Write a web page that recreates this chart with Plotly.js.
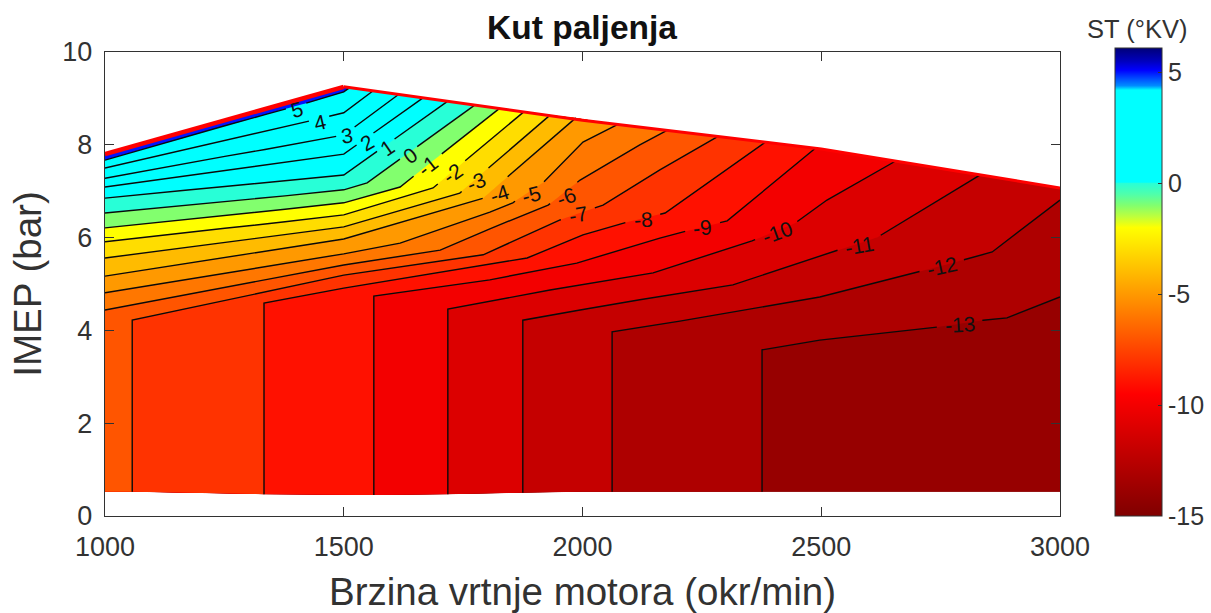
<!DOCTYPE html>
<html><head><meta charset="utf-8">
<script src="https://cdn.plot.ly/plotly-3.0.1.min.js"></script>
<style>html,body{margin:0;padding:0;background:#fff}</style></head>
<body><div id="chart" style="width:1211px;height:613px"></div>
<script>
// Each row of the mesh follows one iso-line of spark timing.
const rpmRows = [
 [1000,1067,1136,1209,1283,1356,1429,1500],
 [1000,1084,1168,1251,1335,1419,1500,1511],
 [1000,1084,1168,1251,1335,1419,1500,1561],
 [1000,1084,1168,1251,1335,1419,1500,1614],
 [1000,1084,1168,1251,1335,1419,1500,1666],
 [1000,1084,1168,1251,1335,1419,1500,1718],
 [1000,1126,1251,1377,1500,1549,1624,1775],
 [1000,1126,1251,1377,1500,1618,1722,1827],
 [1000,1126,1251,1377,1500,1687,1781,1877],
 [1000,1126,1251,1377,1500,1743,1838,1932],
 [1000,1126,1251,1377,1500,1792,1890,1986],
 [1000,1500,1618,1806,1854,1917,2001,2074],
 [1000,1500,1702,1806,1928,1995,2120,2177],
 [1000,1000,1500,1743,1942,2020,2162,2229],
 [1057,1057,1500,1792,1953,2043,2162,2282],
 [1333,1333,1500,1884,2001,2085,2173,2382],
 [1563,1563,1806,1988,2162,2225,2303,2487],
 [1718,1718,1932,2148,2355,2445,2512,2654],
 [1875,1875,1995,2120,2315,2529,2618,2833],
 [1999,1999,2120,2315,2529,2770,2895,3000],
 [2062,2062,2204,2336,2497,2759,2858,3000],
 [2376,2376,2497,2623,2742,2839,2889,3000],
 [2376,2500,2770,3000,3000,3000,3000,3000]
];
const imepRows = [
 [7.80,8.00,8.19,8.41,8.61,8.81,9.03,9.25],
 [7.67,7.92,8.16,8.41,8.65,8.89,9.14,9.22],
 [7.50,7.70,7.89,8.09,8.29,8.49,8.69,9.16],
 [7.28,7.44,7.59,7.75,7.90,8.06,8.21,9.08],
 [7.09,7.21,7.33,7.45,7.56,7.68,7.80,9.01],
 [6.85,6.94,7.02,7.10,7.18,7.27,7.35,8.94],
 [6.53,6.65,6.78,6.90,7.03,7.18,7.74,8.86],
 [6.21,6.34,6.48,6.61,6.75,7.09,7.94,8.79],
 [5.91,6.06,6.20,6.34,6.49,7.07,7.89,8.71],
 [5.56,5.73,5.89,6.06,6.23,6.96,7.81,8.64],
 [5.17,5.37,5.57,5.77,5.97,6.85,7.73,8.58],
 [4.81,5.65,5.88,6.55,6.75,7.18,8.06,8.44],
 [4.44,5.41,5.73,6.19,6.70,7.24,8.00,8.31],
 [0.52,4.12,5.28,5.69,6.53,7.03,8.10,8.24],
 [0.52,4.22,5.19,5.63,6.38,6.70,7.46,8.17],
 [0.47,4.59,4.91,5.56,6.06,6.31,6.53,8.05],
 [0.45,4.74,5.09,5.45,5.99,6.16,6.36,7.92],
 [0.47,4.46,4.87,5.24,5.93,6.31,6.81,7.64],
 [0.50,4.22,4.44,4.66,4.98,5.71,6.01,7.35],
 [0.52,4.12,4.29,4.70,5.34,6.27,6.70,7.07],
 [0.52,3.97,4.20,4.44,4.72,5.41,5.69,6.81],
 [0.52,3.58,3.79,3.93,4.07,4.22,4.27,4.72],
 [0.52,0.52,0.52,0.52,1.50,2.60,3.70,4.72]
];
const stTopEdge = [5.6,5.52,5.44,5.36,5.28,5.2,5.1,5.02];
const stIsoRows = [5,4,3,2,1,0,-1,-2,-3,-4,-5,-6,-6.8,-7,-8,-9,-10,-11,-11.66,-12,-13];
const stBottomEdge = [-13,-13.39,-13.7,-13.9,-13.9,-13.85,-13.6,-13];
const stGrid = [stTopEdge].concat(stIsoRows.map(v => [v,v,v,v,v,v,v,v]), [stBottomEdge]);

// contour labels: value, position, rotation
const labelLevels = [5,4,3,2,1,0,-1,-2,-3,-4,-5,-6,-7,-8,-9,-10,-11,-12,-13];
const labelRpm  = [1402,1450,1507,1549,1591,1639,1676,1727,1779,1827,1894,1967,1991,2127,2252,2407,2581,2753,2790];
const labelImep = [8.77,8.49,8.21,8.06,7.95,7.78,7.56,7.39,7.20,6.96,6.92,6.88,6.49,6.38,6.21,6.12,5.84,5.37,4.12];
const labelAngle = [-15,-13,-8,-30,-35,-35,-38,-35,-22,-18,-15,-20,-10,-4,-6,-20,-10,-12,-3];

const limitRpmLeft = [1000,1500];
const limitImepLeft = [7.80,9.25];
const limitRpmRight = [1500,2000,2500,3000];
const limitImepRight = [9.25,8.53,7.91,7.07];

// Colour map: value, colour
const mapValues = [-15,-9.5,-2,-1.5,-1,-0.5,0,0.05,4.2,4.4,4.9,5.1,5.5,6.1];
const mapColors = ['rgb(128,0,0)','rgb(255,0,0)','rgb(255,255,0)','rgb(190,255,60)','rgb(130,255,110)','rgb(80,255,170)','rgb(40,255,215)','rgb(0,255,255)','rgb(0,255,255)','rgb(0,140,255)','rgb(0,40,255)','rgb(0,0,255)','rgb(0,0,190)','rgb(0,0,120)'];
const barMin = -15, barMax = 6.1;
const barScale = mapValues.map((v,i)=>[(v-barMin)/(barMax-barMin),mapColors[i]]);
// filled band between two levels carries the colour of its lower level
const fillMin = -15.5, fillMax = 6.5;
const fillStops = [[0,mapColors[0]]].concat(mapValues.map((v,i)=>[Math.min(1,(v+0.5-fillMin)/(fillMax-fillMin)),mapColors[i]]),[[1,mapColors[13]]]);

const FONT = 'Liberation Sans, Arial, sans-serif';
const ink = 'rgb(50,50,50)';
const idx = n => Array.from({length:n},(_,i)=>i);
const hiddenAxis = {smoothing:0,showticklabels:'none',showgrid:false,showline:false,startline:false,endline:false,minorgridcount:0,ticks:''};

// open a gap in an iso-line around its label, as the source plot does
const pxX = 955/2000, pxY = 464/10;
function gapLine(xs, ys, cx, cy, r) {
  const X = [], Y = [];
  const inside = (x,y) => Math.hypot((x-cx)*pxX,(y-cy)*pxY) < r;
  if (!inside(xs[0],ys[0])) { X.push(xs[0]); Y.push(ys[0]); }
  for (let i=0;i<xs.length-1;i++) {
    const dx=(xs[i+1]-xs[i])*pxX, dy=(ys[i+1]-ys[i])*pxY, fx=(xs[i]-cx)*pxX, fy=(ys[i]-cy)*pxY;
    const a=dx*dx+dy*dy, b=2*(fx*dx+fy*dy), c=fx*fx+fy*fy-r*r, disc=b*b-4*a*c;
    let t1=2, t2=2;
    if (a>0 && disc>0) { t1=(-b-Math.sqrt(disc))/(2*a); t2=(-b+Math.sqrt(disc))/(2*a); }
    const at = t => [xs[i]+t*(xs[i+1]-xs[i]), ys[i]+t*(ys[i+1]-ys[i])];
    if (t2>0 && t1<1) {
      if (t1>0) { const p=at(t1); X.push(p[0],null); Y.push(p[1],null); }
      if (t2<1) { const p=at(t2); X.push(p[0],xs[i+1]); Y.push(p[1],ys[i+1]); }
    } else { X.push(xs[i+1]); Y.push(ys[i+1]); }
  }
  return [X,Y];
}
const isoTraces = labelLevels.map((lev,k) => {
  const row = stIsoRows.indexOf(lev)+1;
  const chars = String(lev).length;
  const r = chars===1 ? 11 : chars===2 ? 18 : 23;
  const g = gapLine(rpmRows[row], imepRows[row], labelRpm[k], labelImep[k], r);
  return {type:'scatter',mode:'lines',x:g[0],y:g[1],line:{color:'#0a0a0a',width:1.4},showlegend:false,hoverinfo:'skip',connectgaps:false};
});

const traces = [
 {type:'carpet',carpet:'m',a:idx(8),b:idx(rpmRows.length),x:rpmRows,y:imepRows,aaxis:hiddenAxis,baxis:hiddenAxis,xaxis:'x',yaxis:'y'},
 {type:'contourcarpet',carpet:'m',a:idx(8),b:idx(rpmRows.length),z:stGrid,autocontour:false,
  contours:{start:-15,end:6,size:1,coloring:'fill',showlines:false,showlabels:false},
  line:{width:0,smoothing:0},colorscale:fillStops,zmin:fillMin,zmax:fillMax,showscale:false,hoverinfo:'skip'}
].concat(isoTraces,[
 {type:'scatter',mode:'lines',x:limitRpmLeft,y:limitImepLeft,line:{color:'#ff0000',width:4.5},showlegend:false},
 {type:'scatter',mode:'lines',x:limitRpmRight,y:limitImepRight,line:{color:'#ff0000',width:3},showlegend:false},
 {type:'scatter',mode:'markers',x:[1000],y:[-5],showlegend:false,
  marker:{size:1,color:[-15],colorscale:barScale,cmin:barMin,cmax:barMax,showscale:true,
   colorbar:{xref:'container',x:0.9207,xanchor:'left',yref:'paper',y:0,yanchor:'bottom',len:1.0086,lenmode:'fraction',thickness:47,thicknessmode:'pixels',xpad:0,ypad:0,
    tickvals:[-15,-10,-5,0,5],ticktext:['-15','-10','-5','0','5'],ticks:'inside',ticklen:4,tickcolor:ink,
    tickfont:{family:FONT,size:25,color:ink},outlinecolor:ink,outlinewidth:1}}}
]);
const contourLabels = labelLevels.map((lev,k)=>({text:String(lev),x:labelRpm[k],y:labelImep[k],xref:'x',yref:'y',showarrow:false,textangle:labelAngle[k],xanchor:'center',yanchor:'middle',font:{family:FONT,size:21,color:'#111'}}));
const axisBase = {showgrid:false,zeroline:false,showline:true,linecolor:ink,linewidth:1.4,mirror:'allticks',ticks:'inside',ticklen:9,tickwidth:1,tickcolor:ink,tickfont:{family:FONT,size:27,color:ink}};
const layout = {
 width:1211,height:613,margin:{l:105,r:151,t:52,b:97},paper_bgcolor:'#fff',plot_bgcolor:'#fff',showlegend:false,
 title:{text:'<b>Kut paljenja</b>',font:{family:FONT,size:33.5,color:'#111'},x:0.4806,xanchor:'center',y:0.956,yanchor:'middle'},
 xaxis:Object.assign({},axisBase,{range:[1000,3000],tickvals:[1000,1500,2000,2500,3000],ticklabelstandoff:6,title:{text:'Brzina vrtnje motora (okr/min)',font:{family:FONT,size:38.5,color:ink},standoff:17}}),
 yaxis:Object.assign({},axisBase,{range:[0,10],tickvals:[0,2,4,6,8,10],ticklabelstandoff:6,title:{text:'IMEP (bar)',font:{family:FONT,size:38.5,color:ink},standoff:8}}),
 annotations:contourLabels.concat([{text:'ST (°KV)',xref:'paper',yref:'paper',x:1.0806,y:1.0496,xanchor:'center',yanchor:'middle',showarrow:false,font:{family:FONT,size:25.5,color:ink}}])
};
Plotly.newPlot('chart',traces,layout,{displayModeBar:false,staticPlot:true});
</script></body></html>
